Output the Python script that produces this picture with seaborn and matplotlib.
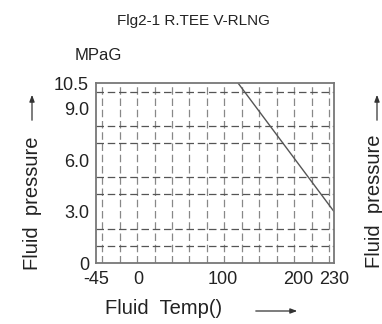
import numpy as np
import pandas as pd
import seaborn as sns
import matplotlib.pyplot as plt
from matplotlib.patches import FancyArrowPatch

# data
temps = [120, 230]
pressures = [10.5, 3.0]

x_ticks = [-45, 0, 100, 200, 230]
x_ticklabels = ["-45", "0", "100", "200", "230"]
y_ticks = [0, 3.0, 6.0, 9.0, 10.5]
y_ticklabels = ["0", "3.0", "6.0", "9.0", "10.5"]

title = "Flg2-1 R.TEE V-RLNG"
unit = "MPaG"
xlabel = "Fluid  Temp()"
ylabel = "Fluid  pressure"

# the temperature axis of the original drawing is not evenly spaced
scale_pts = [-45, 0, 100, 200, 230]
scale_pos = [96, 138, 223, 298, 334]


def fwd(v):
    return np.interp(v, scale_pts, scale_pos)


def inv(v):
    return np.interp(v, scale_pos, scale_pts)


sns.set_style("white")
plt.rcParams['font.family'] = ['Liberation Sans', 'DejaVu Sans']
txt = "#222222"

fig = plt.figure(figsize=(3.82, 3.24), dpi=100)
ax = fig.add_axes([96 / 382, 61 / 324, 238 / 382, 180 / 324])

df = pd.DataFrame({"temp": temps, "pressure": pressures})
sns.lineplot(data=df, x="temp", y="pressure", ax=ax, color="#555555", linewidth=1.0)

ax.set_xscale("function", functions=(fwd, inv))
ax.set_xlim(-45, 230)
ax.set_ylim(0, 10.5)
ax.set_xticks(x_ticks)
ax.set_xticklabels(x_ticklabels)
ax.set_yticks(y_ticks)
ax.set_yticklabels(y_ticklabels)
ax.set_xticks(inv(np.linspace(102.3, 329, 14)), minor=True)
ax.set_yticks(np.arange(1, 11), minor=True)
ax.tick_params(which="major", length=2, width=1, color="#444444", direction="out",
               labelsize=13, labelcolor=txt)
ax.tick_params(axis="x", which="major", pad=4)
ax.tick_params(axis="y", which="major", pad=3)
ax.tick_params(which="minor", length=0)
ax.grid(False)
ax.grid(which="minor", axis="y", color="#555555", linewidth=0.9, linestyle=(0, (6, 3)))
ax.grid(which="minor", axis="x", color="#888888", linewidth=0.9, linestyle=(0, (6, 3)))
ax.set_xlabel("")
ax.set_ylabel("")
for s in ax.spines.values():
    s.set_color("#777777")
    s.set_linewidth(1.3)

fig.text(193 / 382, 1 - 21 / 324, title, ha="center", va="center", fontsize=11, color=txt)
fig.text(98 / 382, 1 - 55 / 324, unit, ha="center", va="center", fontsize=12, color=txt)
fig.text(164 / 382, 1 - 309 / 324, xlabel, ha="center", va="center", fontsize=14.5, color=txt)
fig.text(32 / 382, 1 - 203 / 324, ylabel, ha="center", va="center", rotation=90,
         fontsize=14.5, color=txt)
fig.text(375 / 382, 1 - 201 / 324, ylabel, ha="center", va="center", rotation=90,
         fontsize=14.5, color=txt)

arrow = dict(arrowstyle="-|>,head_length=0.4,head_width=0.15", color="#333333", lw=0.9)
fig.add_artist(FancyArrowPatch((253 / 382, 1 - 311 / 324), (300 / 382, 1 - 311 / 324),
                               transform=fig.transFigure, mutation_scale=10, **arrow))
for xa in (32, 377):
    fig.add_artist(FancyArrowPatch((xa / 382, 1 - 123 / 324), (xa / 382, 1 - 92 / 324),
                                   transform=fig.transFigure, mutation_scale=10, **arrow))

plt.savefig("out.png", dpi=100)
